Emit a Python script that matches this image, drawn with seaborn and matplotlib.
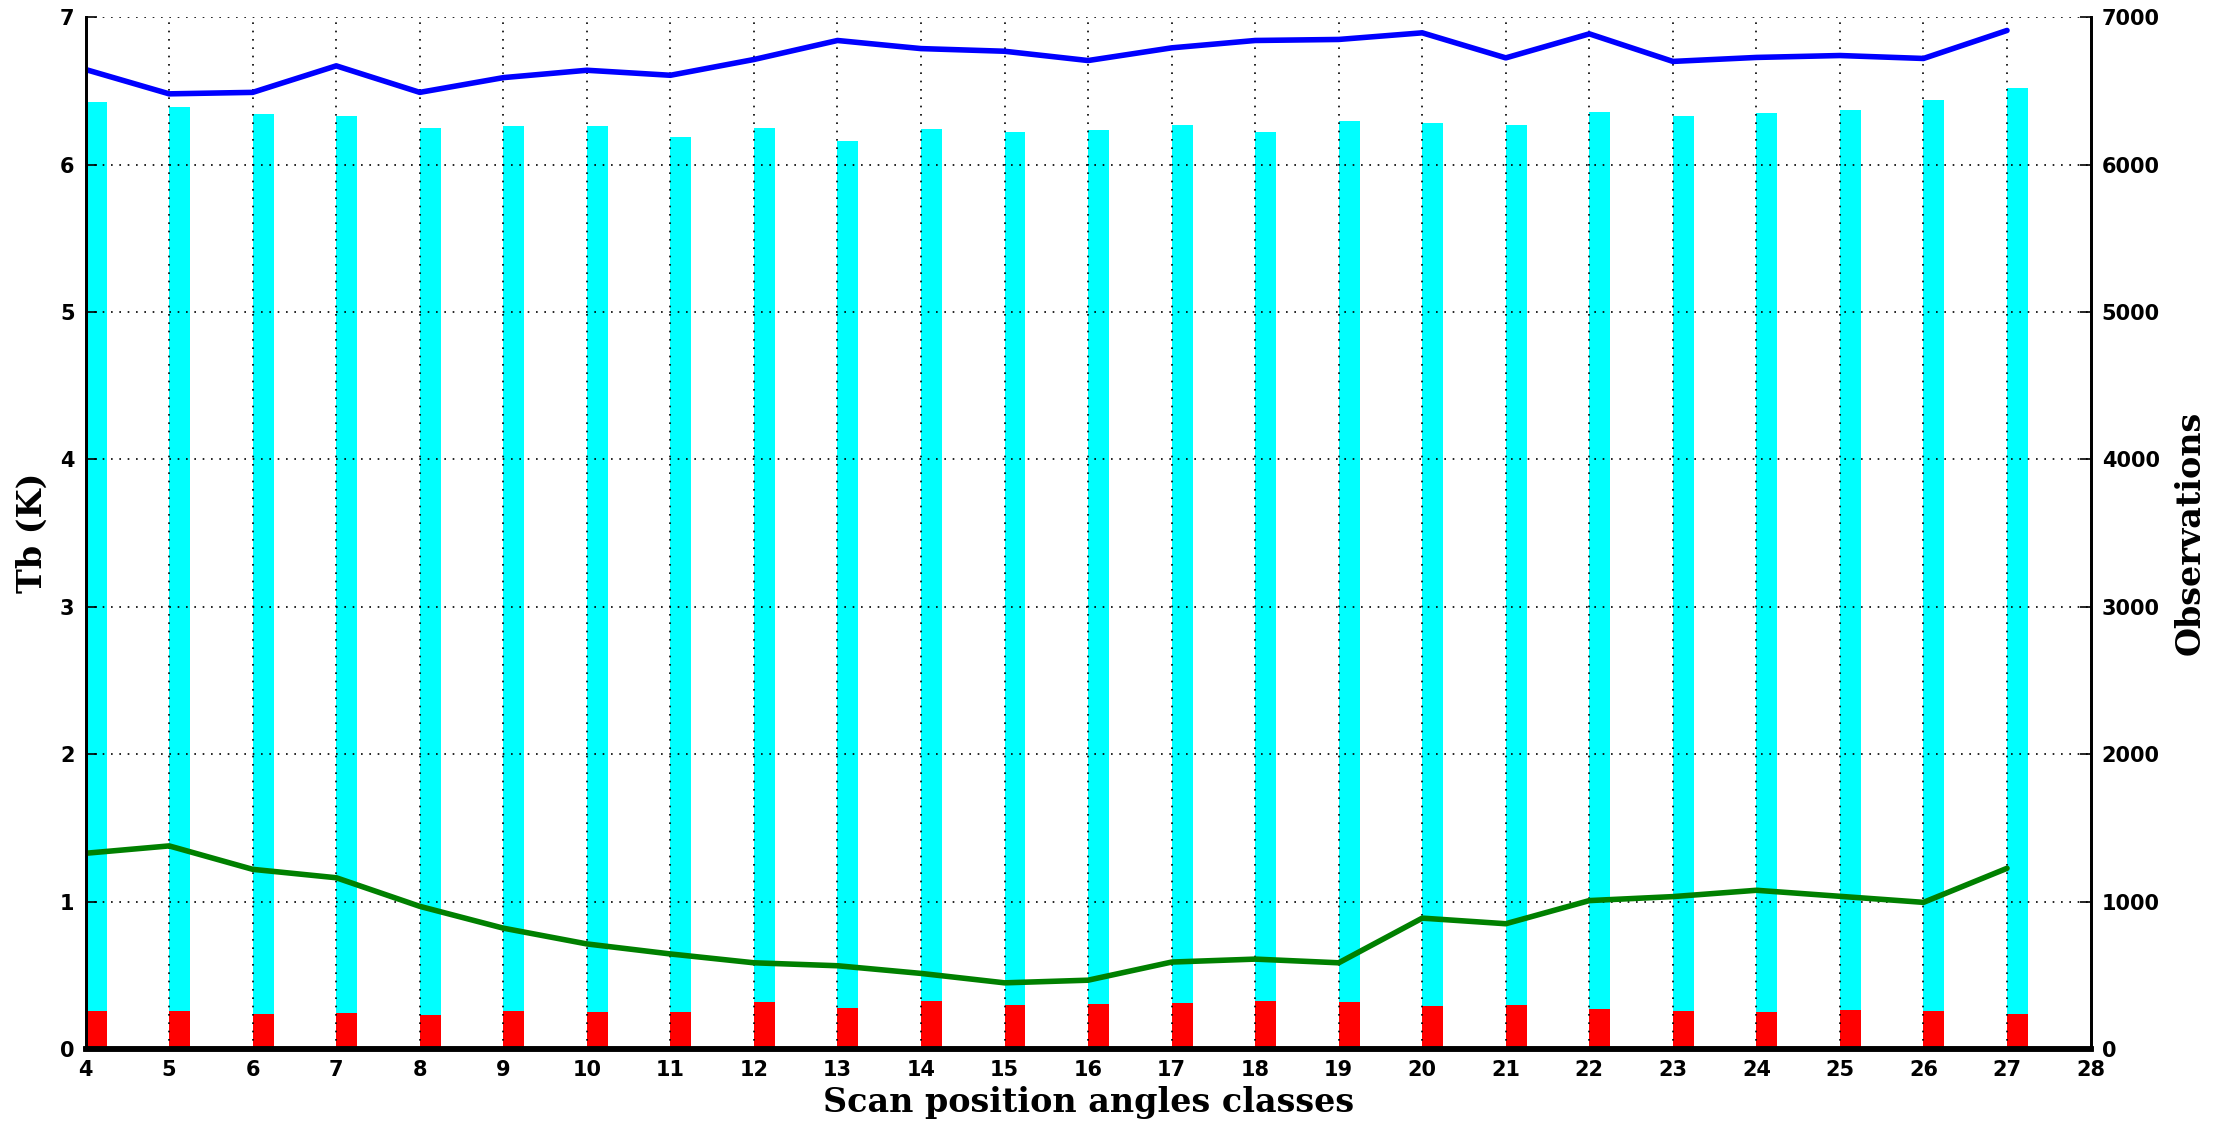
import matplotlib
matplotlib.use("Agg")
import matplotlib.pyplot as plt
import seaborn as sns
import pandas as pd

sns.set_style("white")
plt.rcParams["text.color"] = "black"
plt.rcParams["axes.labelcolor"] = "black"

# scan position angle classes
angles = [4, 5, 6, 7, 8, 9, 10, 11, 12, 13, 14, 15, 16, 17, 18, 19, 20, 21, 22, 23, 24, 25, 26, 27]
# Tb statistics (K), left axis
tb_blue = [6.645, 6.48, 6.49, 6.67, 6.49, 6.59, 6.64, 6.606, 6.713, 6.842, 6.787, 6.769,
           6.706, 6.792, 6.842, 6.849, 6.894, 6.724, 6.887, 6.70, 6.727, 6.74, 6.72, 6.91]
tb_green = [1.328, 1.378, 1.219, 1.162, 0.968, 0.820, 0.713, 0.645, 0.585, 0.565, 0.513, 0.449,
            0.467, 0.590, 0.610, 0.585, 0.888, 0.850, 1.007, 1.034, 1.077, 1.036, 0.995, 1.226]
# observation counts, right axis
obs_total = [6423, 6390, 6340, 6330, 6245, 6260, 6260, 6188, 6247, 6158, 6240, 6219,
             6233, 6267, 6224, 6294, 6281, 6271, 6355, 6333, 6348, 6369, 6439, 6523]
obs_rejected = [257, 255, 235, 244, 230, 257, 251, 251, 319, 276, 323, 301,
                307, 310, 328, 319, 292, 298, 273, 257, 251, 264, 260, 239]
xticks = list(range(4, 29))

df = pd.DataFrame({"angle": angles, "blue": tb_blue, "green": tb_green,
                   "total": obs_total, "rejected": obs_rejected})

fig = plt.figure(figsize=(22.24, 11.24), dpi=100)
ax1 = fig.add_axes([0.0385, 0.0667, 0.9015, 0.918])
ax2 = ax1.twinx()

# bars on the right axis, lines on the left axis drawn above them
ax2.bar(df["angle"], df["total"], width=0.25, align="edge", color="#00FFFF", linewidth=0)
ax2.bar(df["angle"], df["rejected"], width=0.25, align="edge", color="#FF0000", linewidth=0)
ax1.set_zorder(ax2.get_zorder() + 1)
ax1.patch.set_visible(False)

sns.lineplot(data=df, x="angle", y="blue", ax=ax1, color="#0000FF", linewidth=4)
sns.lineplot(data=df, x="angle", y="green", ax=ax1, color="#008000", linewidth=4)

ax1.set_xlim(4, 28)
ax1.set_ylim(0, 7)
ax2.set_ylim(0, 7000)
ax1.set_xticks(xticks)
ax1.set_yticks(range(0, 8))
ax2.set_yticks(range(0, 7001, 1000))

ax1.grid(True, color="black", linestyle=(0, (1, 4)), linewidth=1.2)
ax2.grid(False)

for ax in (ax1, ax2):
    ax.spines["top"].set_visible(False)
    ax.spines["bottom"].set_linewidth(4)
    ax.spines["left"].set_linewidth(2)
    ax.spines["right"].set_linewidth(2)
    for s in ax.spines.values():
        s.set_color("black")
    ax.tick_params(direction="in", length=8, width=1.2, labelsize=15, colors="black")
    for lbl in ax.get_xticklabels() + ax.get_yticklabels():
        lbl.set_fontweight("bold")
ax1.tick_params(axis="x", pad=8)
ax1.tick_params(axis="y", pad=8)
ax2.tick_params(axis="y", pad=8, left=False)

lab = dict(family="DejaVu Serif", fontweight="bold", fontsize=24, color="black")
ax1.set_xlabel("Scan position angles classes", labelpad=4, **lab)
ax1.set_ylabel("Tb (K)", labelpad=8, **lab)
ax2.set_ylabel("Observations", labelpad=10, **lab)

fig.savefig("out.png", dpi=100)
